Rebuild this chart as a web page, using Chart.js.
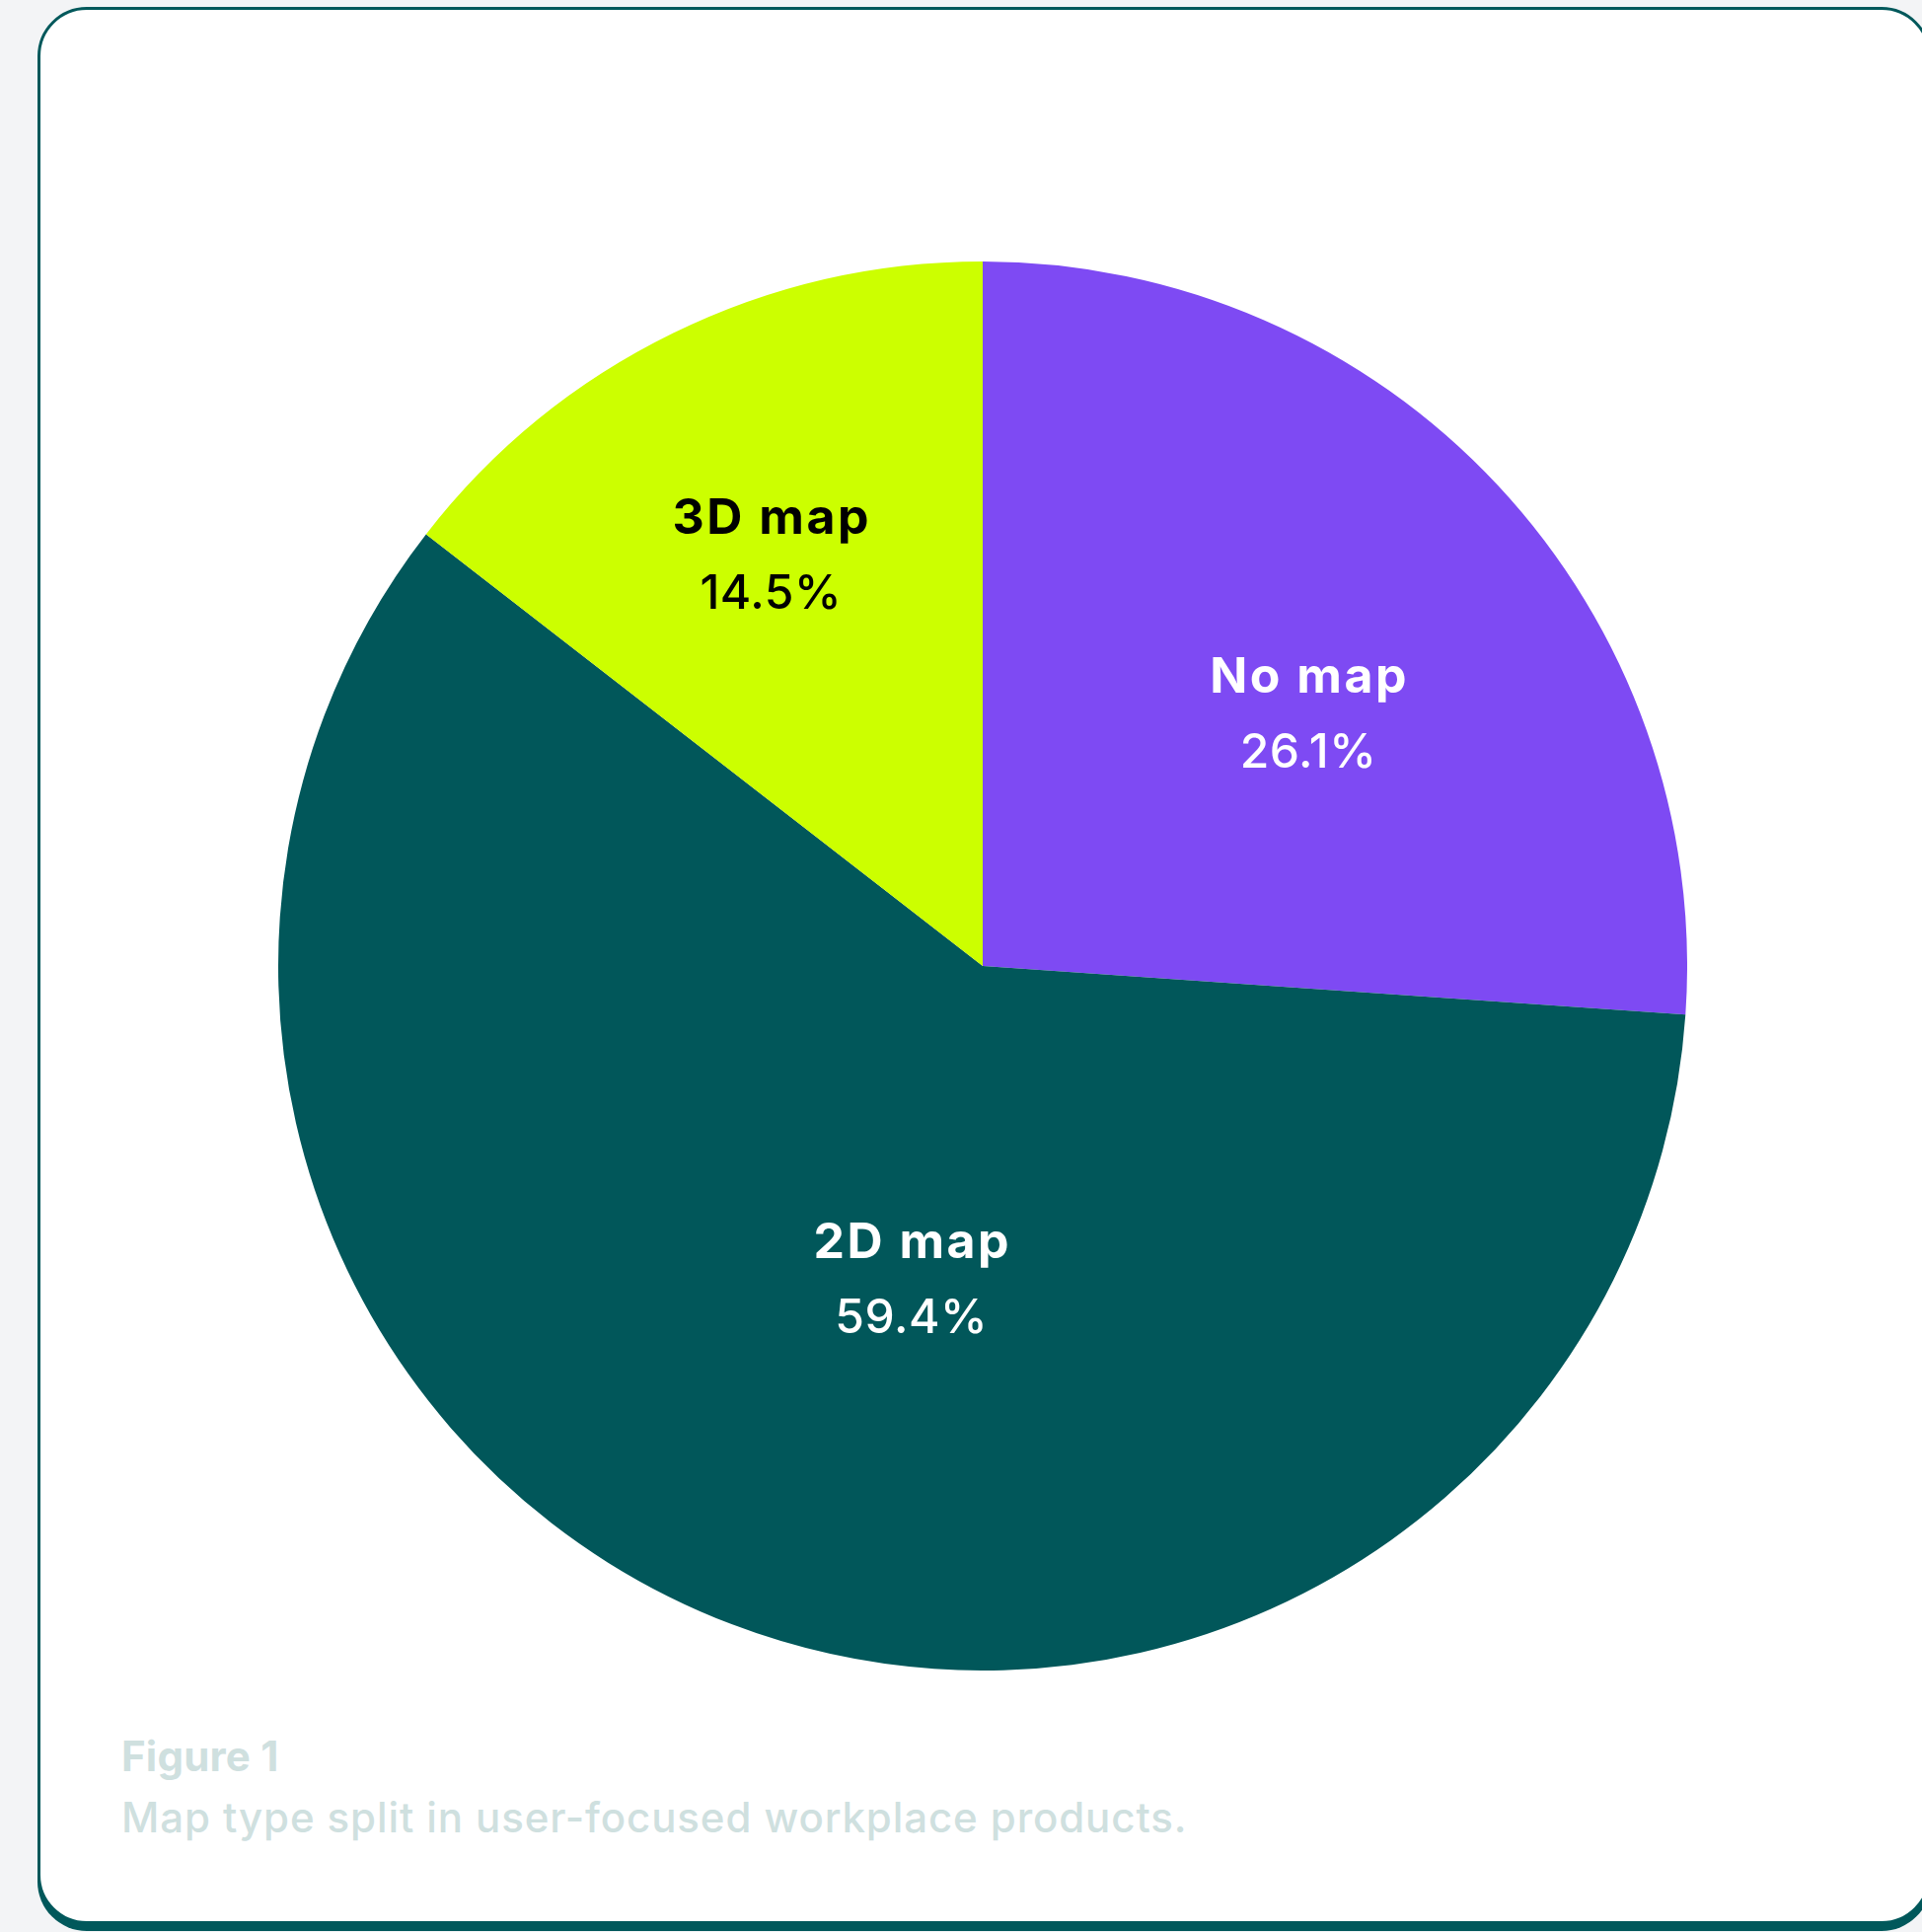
<!DOCTYPE html>
<html>
<head>
<meta charset="utf-8">
<script src="https://cdn.jsdelivr.net/npm/chart.js@4.4.0/dist/chart.umd.min.js"></script>
<style>
  html, body { margin: 0; padding: 0; background: #f3f4f6; }
  body { width: 1948px; height: 1958px; position: relative; overflow: hidden; font-family: Inter, "Noto Sans", sans-serif; }
  .card {
    position: absolute; left: 38px; top: 7px; width: 1913px; height: 1937px;
    background: #fff; border: 3px solid #01585b; border-radius: 50px;
    box-shadow: 0 7px 0 0 #01585b;
  }
  #pie { position: absolute; left: 282px; top: 265px; }
  .cap { position: absolute; left: 123px; font-size: 42px; line-height: 42px; color: #cfe0df; white-space: nowrap; }
  .cap.t { top: 1759px; font-weight: 700; letter-spacing: 0.2px; }
  .cap.s { top: 1821px; font-weight: 500; letter-spacing: 0.9px; }
</style>
</head>
<body>
<div class="card"></div>
<canvas id="pie" width="1428" height="1428"></canvas>
<div class="cap t">Figure 1</div>
<div class="cap s">Map type split in user-focused workplace products.</div>
<script>
// datos del gráfico
const categories = ['No map', '2D map', '3D map'];
const shares = [26.1, 59.4, 14.5];
const sliceColors = ['#7e4af3', '#01575a', '#ccff00'];
const labelColors = ['#ffffff', '#ffffff', '#000000'];

// dónde va cada etiqueta: giro en grados respecto al centro del sector y fracción del radio
const labelSpots = [[5.1, 0.586], [-8.0, 0.454], [-1.1, 0.658]];

// plugin sencillo para escribir nombre y porcentaje dentro de cada sector
const sliceLabels = {
  id: 'sliceLabels',
  afterDatasetsDraw(chart) {
    const ctx = chart.ctx;
    const arcs = chart.getDatasetMeta(0).data;
    arcs.forEach((arc, i) => {
      const mid = (arc.startAngle + arc.endAngle) / 2 + labelSpots[i][0] * Math.PI / 180;
      const r = arc.outerRadius * labelSpots[i][1];
      const x = arc.x + Math.cos(mid) * r;
      const y = arc.y + Math.sin(mid) * r;
      ctx.save();
      ctx.fillStyle = labelColors[i];
      ctx.textAlign = 'center';
      ctx.textBaseline = 'alphabetic';
      ctx.font = '700 50px Inter, sans-serif';
      ctx.letterSpacing = '2.5px';
      ctx.fillText(categories[i], x + 1, y - 20);
      ctx.font = '500 48px Inter, sans-serif';
      ctx.letterSpacing = '0.5px';
      ctx.fillText(shares[i].toFixed(1) + '%', x, y + 56);
      ctx.restore();
    });
  }
};

new Chart(document.getElementById('pie'), {
  type: 'pie',
  data: {
    labels: categories,
    datasets: [{
      data: shares,
      backgroundColor: sliceColors,
      borderWidth: 0
    }]
  },
  options: {
    responsive: false,
    animation: false,
    devicePixelRatio: 1,
    layout: { padding: 0 },
    plugins: {
      legend: { display: false },
      tooltip: { enabled: false }
    }
  },
  plugins: [sliceLabels]
});
</script>
</body>
</html>
